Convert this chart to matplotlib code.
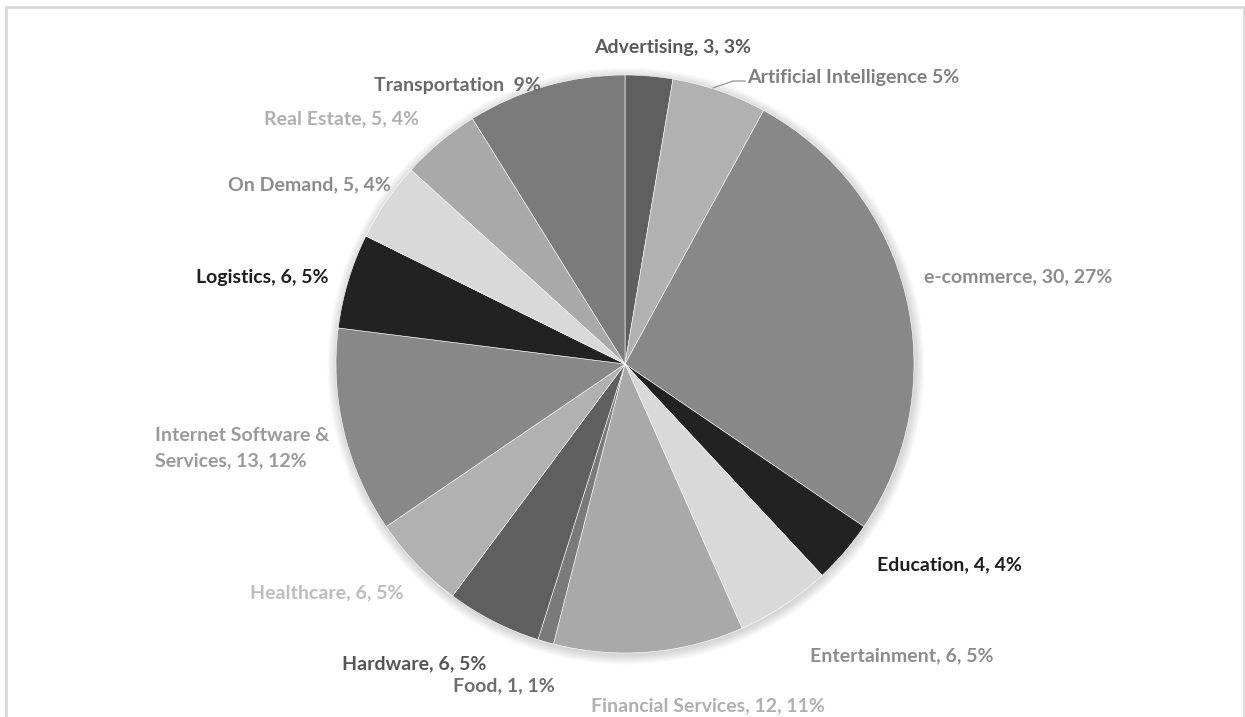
import matplotlib
matplotlib.use('Agg')
import matplotlib.pyplot as plt
from matplotlib.patches import Circle, Rectangle

# data
categories = ['Advertising', 'Artificial Intelligence', 'e-commerce', 'Education',
              'Entertainment', 'Financial Services', 'Food', 'Hardware', 'Healthcare',
              'Internet Software &\nServices', 'Logistics', 'On Demand', 'Real Estate',
              'Transportation']
values = [3, 6, 30, 4, 6, 12, 1, 6, 6, 13, 6, 5, 5, 10]
show_value = [True, False, True, True, True, True, True, True, True, True, True, True, True, False]
name_sep = [', ', ' ', ', ', ', ', ', ', ', ', ', ', ', ', ', ', ', ', ', ', ', ', ', ', '  ']

slice_colors = ['#5f5f5f', '#b1b1b1', '#888888', '#222222', '#d9d9d9', '#a9a9a9', '#7a7a7a',
                '#5f5f5f', '#b1b1b1', '#888888', '#222222', '#d9d9d9', '#a9a9a9', '#7b7b7b']
label_colors = ['#5a5a5a', '#808080', '#8c8c8c', '#1e1e1e', '#8c8c8c', '#b0b0b0', '#6e6e6e',
                '#555555', '#bdbdbd', '#9a9a9a', '#1e1e1e', '#8c8c8c', '#b0b0b0', '#6a6a6a']

# label layout in pixels (x, y from top, horizontal alignment)
label_pos = [(673, 48, 'center'), (747, 77, 'left'), (1018, 277, 'center'), (949, 565, 'center'),
             (902, 656, 'center'), (708, 706, 'center'), (504, 686, 'center'), (414, 664, 'center'),
             (327, 593, 'center'), (155, 448, 'left'), (262, 277, 'center'), (309, 185, 'center'),
             (342, 119, 'center'), (457, 86, 'center')]

W, H = 1245, 717
cx, cy, r = 625, H - 364, 289

fig = plt.figure(figsize=(W / 100, H / 100), dpi=100)
ax = fig.add_axes([0, 0, 1, 1])

# frame
ax.add_patch(Rectangle((5.5, -10), 1238, H - 6.5 + 10, fill=False, edgecolor='#d9d9d9', lw=2))

# soft shadow
for k in range(8):
    ax.add_patch(Circle((cx + 1, cy - 2), r + 1 + k * 1.2, color='black', alpha=0.018, lw=0, zorder=1))

wedges, _ = ax.pie(values, colors=slice_colors, startangle=90, counterclock=False,
                   center=(cx, cy), radius=r, frame=True,
                   wedgeprops=dict(linewidth=0.4, edgecolor='white'))
for w in wedges:
    w.set_zorder(2)
ax.set_xlim(0, W)
ax.set_ylim(0, H)
ax.set_aspect('equal')
ax.axis('off')

total = sum(values)
for i, (name, v) in enumerate(zip(categories, values)):
    pct = round(100 * v / total)
    if show_value[i]:
        txt = f'{name}, {v}, {pct}%'
    else:
        txt = f'{name}{name_sep[i]}{pct}%'
    x, y, ha = label_pos[i]
    ax.text(x, H - y, txt, ha=ha, va='center', fontsize=14, fontweight='bold',
            family='Lato', color=label_colors[i], linespacing=1.6, zorder=5)

# leader line for Artificial Intelligence
ax.plot([713, 733, 745], [H - 88, H - 81, H - 81], color='#a0a0a0', lw=1, zorder=3)

fig.savefig('out.png', dpi=100)
